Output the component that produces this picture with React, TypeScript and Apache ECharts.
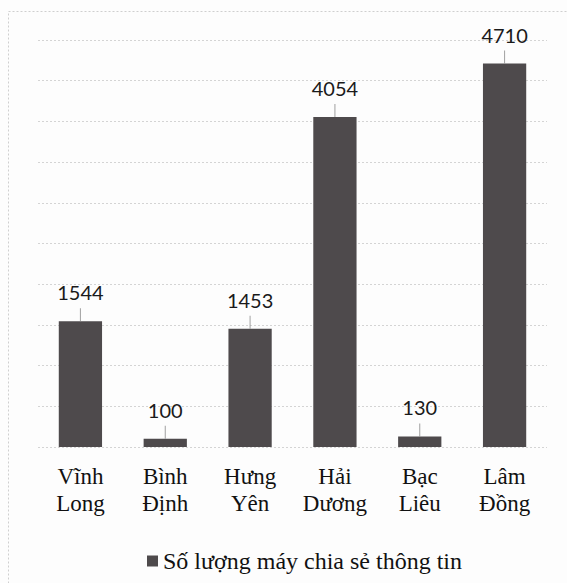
import React, { useEffect, useRef } from "react";
import * as echarts from "echarts";

const categories = ["Vĩnh\nLong", "Bình\nĐịnh", "Hưng\nYên", "Hải\nDương", "Bạc\nLiêu", "Lâm\nĐồng"];
const values = [1544, 100, 1453, 4054, 130, 4710];
const seriesName = "Số lượng máy chia sẻ thông tin";

export default function App() {
  const ref = useRef<HTMLDivElement>(null);
  useEffect(() => {
    if (!ref.current) return;
    const chart = echarts.init(ref.current, null, { renderer: "svg" });
    chart.setOption({
      animation: false,
      backgroundColor: "#fdfdfd",
      graphic: [
        {
          type: "rect",
          shape: { x: 8.5, y: 11.5, width: 600, height: 600 },
          style: { fill: "none", stroke: "#cfcfcf", lineWidth: 1, lineDash: [2, 2] },
          silent: true,
        },
      ],
      grid: { left: 38, right: 20, top: 40, bottom: 136 },
      legend: {
        data: [{ name: seriesName, icon: "rect" }],
        left: 142,
        top: 544,
        itemWidth: 11,
        itemHeight: 11,
        itemGap: 4,
        textStyle: { fontFamily: "Liberation Serif", fontSize: 24, color: "#111" },
      },
      xAxis: {
        type: "category",
        data: categories,
        axisLine: { show: false },
        axisTick: { show: false },
        axisLabel: {
          fontFamily: "Liberation Serif",
          fontSize: 23,
          lineHeight: 27,
          color: "#111",
          margin: 16,
          interval: 0,
        },
      },
      yAxis: {
        type: "value",
        min: 0,
        max: 5000,
        interval: 500,
        axisLabel: { show: false },
        axisLine: { show: false },
        axisTick: { show: false },
        splitLine: { lineStyle: { color: "#d4d4d4", type: [2, 2], width: 1 } },
      },
      series: [
        {
          name: seriesName,
          type: "bar",
          data: values,
          barWidth: "51%",
          itemStyle: { color: "#4e4a4c" },
          label: {
            show: true,
            position: "top",
            distance: 19,
            fontFamily: "Lato",
            fontSize: 20,
            color: "#1a1a1a",
          },
          z: 2,
        },
        {
          name: "leader",
          type: "scatter",
          data: values,
          symbol: "rect",
          symbolSize: [1, 13],
          symbolOffset: [0, -6.5],
          itemStyle: { color: "#8a8a8a" },
          silent: true,
          z: 3,
        },
      ],
    });
    return () => chart.dispose();
  }, []);
  return (
    <div
      ref={ref}
      style={{ position: "fixed", left: 0, top: 0, width: 567, height: 583 }}
    />
  );
}
